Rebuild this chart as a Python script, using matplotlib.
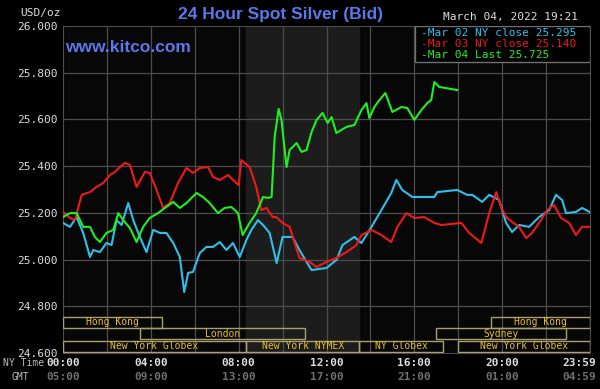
import matplotlib
matplotlib.use("Agg")
import matplotlib.pyplot as plt
from matplotlib.patches import Rectangle

# hours after 00:00 NY time, price in USD/oz
mar02_hours = [0.0, 0.32, 0.62, 0.92, 1.23, 1.38, 1.68, 1.98, 2.21, 2.44, 2.67, 2.97, 3.20, 3.50,
               3.80, 4.11, 4.41, 4.71, 5.02, 5.32, 5.52, 5.70, 5.92, 6.23, 6.53, 6.83, 7.14, 7.44,
               7.74, 8.05, 8.35, 8.58, 8.88, 9.11, 9.41, 9.73, 10.0, 10.45, 10.77, 11.09, 11.32,
               12.0, 12.45, 12.73, 13.27, 13.59, 14.05, 14.5, 14.95, 15.18, 15.45, 15.91, 16.45,
               16.91, 17.05, 17.95, 18.41, 18.64, 19.09, 19.41, 19.86, 20.18, 20.45, 20.77, 21.23,
               21.68, 22.14, 22.45, 22.73, 22.91, 23.36, 23.64, 23.98]
mar02_price = [25.157, 25.140, 25.182, 25.114, 25.011, 25.041, 25.032, 25.071, 25.062, 25.169,
               25.148, 25.242, 25.169, 25.097, 25.032, 25.127, 25.114, 25.114, 25.071, 25.011,
               24.861, 24.943, 24.947, 25.028, 25.054, 25.054, 25.075, 25.041, 25.071, 25.011,
               25.084, 25.127, 25.169, 25.148, 25.114, 24.985, 25.097, 25.097, 25.041, 24.990,
               24.955, 24.964, 24.998, 25.062, 25.097, 25.071, 25.140, 25.212, 25.285, 25.341,
               25.298, 25.268, 25.268, 25.268, 25.289, 25.298, 25.277, 25.277, 25.247, 25.277,
               25.255, 25.157, 25.118, 25.148, 25.140, 25.182, 25.212, 25.277, 25.255, 25.199,
               25.204, 25.221, 25.204]

mar03_hours = [0.0, 0.32, 0.55, 0.70, 0.85, 1.23, 1.53, 1.83, 2.14, 2.36, 2.59, 2.82, 3.05, 3.35,
               3.73, 3.95, 4.26, 4.56, 4.86, 5.24, 5.62, 5.92, 6.23, 6.61, 6.83, 7.14, 7.52, 7.74,
               8.0, 8.12, 8.50, 8.80, 9.03, 9.27, 9.55, 9.71, 10.0, 10.32, 10.55, 10.77, 11.23,
               11.55, 12.0, 12.45, 12.91, 13.36, 13.59, 14.05, 14.5, 14.95, 15.23, 15.64, 16.0,
               16.45, 16.91, 17.23, 18.14, 18.5, 19.05, 19.41, 19.73, 19.95, 20.18, 20.45, 20.77,
               21.09, 21.36, 21.68, 22.05, 22.36, 22.68, 23.05, 23.36, 23.64, 23.98]
mar03_price = [25.204, 25.178, 25.169, 25.225, 25.277, 25.289, 25.311, 25.328, 25.362, 25.375,
               25.396, 25.414, 25.405, 25.311, 25.375, 25.371, 25.298, 25.221, 25.242, 25.328,
               25.392, 25.371, 25.392, 25.396, 25.354, 25.341, 25.362, 25.341, 25.319, 25.426,
               25.396, 25.311, 25.212, 25.221, 25.182, 25.182, 25.157, 25.140, 25.071, 25.007,
               24.990, 24.968, 24.990, 25.007, 25.032, 25.062, 25.105, 25.127, 25.105, 25.075,
               25.140, 25.199, 25.178, 25.182, 25.157, 25.148, 25.157, 25.114, 25.071, 25.199,
               25.289, 25.225, 25.182, 25.161, 25.140, 25.092, 25.114, 25.157, 25.212, 25.234,
               25.178, 25.157, 25.105, 25.140, 25.140]

mar04_hours = [0.0, 0.32, 0.62, 0.92, 1.23, 1.45, 1.68, 1.98, 2.29, 2.52, 2.74, 3.05, 3.35, 3.65,
               3.95, 4.33, 4.64, 5.02, 5.32, 5.62, 6.08, 6.38, 6.68, 7.06, 7.36, 7.67, 7.97, 8.18,
               8.50, 8.80, 9.11, 9.33, 9.50, 9.64, 9.82, 9.95, 10.18, 10.32, 10.64, 10.86, 11.09,
               11.32, 11.55, 11.82, 12.05, 12.23, 12.45, 12.91, 13.27, 13.59, 13.82, 13.95, 14.18,
               14.41, 14.68, 15.0, 15.41, 15.68, 16.0, 16.32, 16.59, 16.77, 16.91, 17.14, 17.95]
mar04_price = [25.182, 25.199, 25.199, 25.140, 25.140, 25.097, 25.075, 25.114, 25.127, 25.199,
               25.169, 25.135, 25.075, 25.140, 25.178, 25.199, 25.221, 25.247, 25.221, 25.242,
               25.285, 25.268, 25.242, 25.199, 25.221, 25.225, 25.199, 25.105, 25.157, 25.199,
               25.268, 25.264, 25.268, 25.525, 25.645, 25.598, 25.396, 25.469, 25.499, 25.461,
               25.469, 25.546, 25.598, 25.628, 25.585, 25.610, 25.542, 25.568, 25.576, 25.640,
               25.670, 25.606, 25.653, 25.683, 25.713, 25.632, 25.653, 25.649, 25.598, 25.640,
               25.670, 25.683, 25.760, 25.739, 25.726]

mar02_close = 25.295
mar03_close = 25.140
mar04_last = 25.725

y_ticks = [24.6, 24.8, 25.0, 25.2, 25.4, 25.6, 25.8, 26.0]
ny_labels = ["00:00", "04:00", "08:00", "12:00", "16:00", "20:00", "23:59"]
gmt_labels = ["05:00", "09:00", "13:00", "17:00", "21:00", "01:00", "04:59"]
label_hours = [0, 4, 8, 12, 16, 20, 23.98]

# name, start hour, end hour, row (0 = top)
sessions = [
    ("Hong Kong", 0.0, 4.5, 0),
    ("London", 3.5, 11.0, 1),
    ("New York Globex", 0.0, 8.33, 2),
    ("New York NYMEX", 8.33, 13.5, 2),
    ("NY Globex", 13.5, 17.3, 2),
    ("New York Globex", 18.0, 24.0, 2),
    ("Sydney", 17.0, 22.9, 1),
    ("Hong Kong", 19.5, 24.0, 0),
]
nymex_open, nymex_close = 8.33, 13.5

cyan = "#2fbfe8"
red = "#ee1a1a"
green = "#22ee22"
blue = "#5a78e8"
gold = "#e8c030"
mono = "DejaVu Sans Mono"

fig = plt.figure(figsize=(6, 3.89), dpi=100, facecolor="black")
ax = fig.add_axes([63 / 600, 36 / 389, 527 / 600, 327 / 389])
ax.set_facecolor("#070707")
ax.set_xlim(0, 24)
ax.set_ylim(24.6, 26.0)

ax.axvspan(nymex_open, nymex_close, color="#1c1c1c", zorder=0)
for h in range(2, 24, 2):
    ax.axvline(h, color="#4c4c4c", lw=0.9, zorder=1)
for v in y_ticks[1:-1]:
    ax.axhline(v, color="#4c4c4c", lw=0.9, zorder=1)
for s in ax.spines.values():
    s.set_color("#4c4c4c")

ax.plot(mar02_hours, mar02_price, color=cyan, lw=1.5, zorder=3)
ax.plot(mar03_hours, mar03_price, color=red, lw=1.5, zorder=4)
ax.plot(mar04_hours, mar04_price, color=green, lw=1.5, zorder=5)

# session bars
row_top = [24.754, 24.706, 24.652]
row_h = 0.046
for name, start, end, row in sessions:
    y0 = row_top[row] - row_h
    ax.add_patch(Rectangle((start, y0), end - start, row_h, fill=False,
                           edgecolor="#a8a070", lw=1.0, zorder=6, clip_on=True))
    ax.text((start + end) / 2, y0 + row_h / 2, name, color=gold, fontsize=7,
            family=mono, ha="center", va="center", zorder=7, clip_on=True)

ax.set_yticks(y_ticks)
ax.set_yticklabels([f"{v:.3f}" for v in y_ticks], family=mono, fontsize=8, color="#dddddd")
ax.set_xticks([])
ax.tick_params(axis="y", length=0, pad=4)

for h, ny, gmt in zip(label_hours, ny_labels, gmt_labels):
    ha = "right" if h > 23 else "center"
    xh = 24.3 if h > 23 else h
    ax.text(xh, -0.03, ny, transform=ax.get_xaxis_transform(), ha=ha, va="center",
            family=mono, fontsize=8, color="#dddddd", fontweight="bold")
    ax.text(xh, -0.073, gmt, transform=ax.get_xaxis_transform(), ha=ha, va="center",
            family=mono, fontsize=8, color="#707070", fontweight="bold")
fig.text(3 / 600, 1 - 363 / 389, "NY Time", family=mono, fontsize=7, color="#bbbbbb", va="center")
fig.text(12 / 600, 1 - 377 / 389, "GMT", family=mono, fontsize=7, color="#bbbbbb", va="center")

# legend box
ax.add_patch(Rectangle((0.668, 0.89), 0.332, 0.11, transform=ax.transAxes,
                       facecolor="black", edgecolor="#707070", lw=1.0, zorder=8))
legend_rows = [(f"-Mar 02 NY close {mar02_close:.3f}", cyan),
               (f"-Mar 03 NY close {mar03_close:.3f}", red),
               (f"-Mar 04 Last {mar04_last:.3f}", green)]
for i, (txt, col) in enumerate(legend_rows):
    ax.text(0.68, 0.98 - i * 0.034, txt, transform=ax.transAxes, color=col, fontsize=8,
            family=mono, va="center", ha="left", zorder=9)

fig.text(280 / 600, 1 - 14 / 389, "24 Hour Spot Silver (Bid)", color=blue, fontsize=12.5,
         family="Liberation Sans", fontweight="bold", ha="center", va="center")
fig.text(65 / 600, 1 - 47 / 389, "www.kitco.com", color=blue, fontsize=12.5,
         family="Liberation Sans", fontweight="bold", ha="left", va="center")
fig.text(578 / 600, 1 - 17 / 389, "March 04, 2022 19:21", color="#dddddd", fontsize=8,
         family=mono, ha="right", va="center")
fig.text(20 / 600, 1 - 13 / 389, "USD/oz", color="#dddddd", fontsize=8, family=mono,
         ha="left", va="center")

fig.savefig("out.png", dpi=100, facecolor="black")
